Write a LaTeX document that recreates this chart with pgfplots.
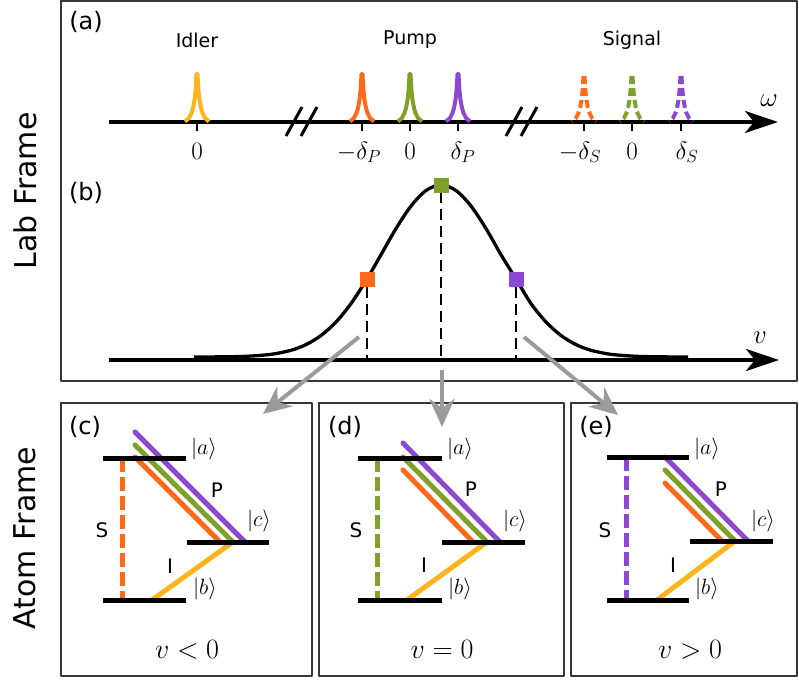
\RequirePackage{fix-cm}
\documentclass[border=0pt]{standalone}
\usepackage[no-math]{fontspec}
\setmainfont{DejaVu Sans}
\usepackage{pgfplots}
\pgfplotsset{compat=1.18}
\usetikzlibrary{arrows.meta}
\definecolor{cOr}{RGB}{255,106,26}
\definecolor{cGr}{RGB}{127,160,42}
\definecolor{cPu}{RGB}{140,72,208}
\definecolor{cYe}{RGB}{255,180,28}
\definecolor{cGy}{RGB}{155,155,155}
\definecolor{cBx}{RGB}{55,55,55}
\newcommand{\fs}[1]{\fontsize{#1}{#1}\selectfont}
\begin{document}
\begin{tikzpicture}
\begin{axis}[
 width=799pt, height=679pt, scale only axis,
 xmin=0, xmax=799, ymin=0, ymax=679, y dir=reverse,
 axis line style={draw=none}, ticks=none, clip=false,
 every axis plot/.append style={line join=round},
 box/.style={cBx, line width=1.6pt, line cap=rect},
 peak/.style={line width=4pt},
 dpeak/.style={line width=4pt, dash pattern=on 8pt off 4pt},
 lvl/.style={black, line width=5pt},
 tr/.style={line width=5pt, line cap=round},
 sdash/.style={line width=5pt, dash pattern=on 14pt off 5pt},
 garrow/.style={cGy, line width=4pt, -{Stealth[length=28pt,width=25pt,inset=9pt]}},
 barrow/.style={black, line width=4pt, -{Stealth[length=33pt,width=22pt,inset=9pt]}},
]
\path (axis cs:0,0) rectangle (axis cs:799,679);
% ---------------- boxes
\addplot[box] coordinates {(61,1) (797,1) (797,381) (61,381) (61,1)};
\addplot[box] coordinates {(61,403) (312,403) (312,676) (61,676) (61,403)};
\addplot[box] coordinates {(319,403) (564,403) (564,676) (319,676) (319,403)};
\addplot[box] coordinates {(571,403) (797,403) (797,676) (571,676) (571,403)};
% ---------------- panel (a)
\addplot[barrow] coordinates {(109,122) (778,122)};
\addplot[black, line width=2.5pt] coordinates {(197,122) (197,131)};
\addplot[black, line width=2.5pt] coordinates {(362,122) (362,131)};
\addplot[black, line width=2.5pt] coordinates {(410,122) (410,131)};
\addplot[black, line width=2.5pt] coordinates {(458,122) (458,131)};
\addplot[black, line width=2.5pt] coordinates {(584,122) (584,131)};
\addplot[black, line width=2.5pt] coordinates {(632,122) (632,131)};
\addplot[black, line width=2.5pt] coordinates {(681,122) (681,131)};
% axis breaks
\addplot[black, line width=3pt] coordinates {(286,136) (302,107)};
\addplot[black, line width=3pt] coordinates {(301,136) (317,107)};
\addplot[black, line width=3pt] coordinates {(506,136) (522,107)};
\addplot[black, line width=3pt] coordinates {(521,136) (537,107)};
% idler and pump lines
\addplot[peak, cYe] coordinates {(185,121.5) (189,118) (191.5,113) (193,108) (194.5,100) (195.6,90) (196.5,74) (197.5,74) (198.4,90) (199.5,100) (201,108) (202.5,113) (205,118) (209,121.5)};
\addplot[peak, cOr] coordinates {(350,121.5) (354,118) (356.5,113) (358,108) (359.5,100) (360.6,90) (361.5,74) (362.5,74) (363.4,90) (364.5,100) (366,108) (367.5,113) (370,118) (374,121.5)};
\addplot[peak, cGr] coordinates {(398,121.5) (402,118) (404.5,113) (406,108) (407.5,100) (408.6,90) (409.5,74) (410.5,74) (411.4,90) (412.5,100) (414,108) (415.5,113) (418,118) (422,121.5)};
\addplot[peak, cPu] coordinates {(446,121.5) (450,118) (452.5,113) (454,108) (455.5,100) (456.6,90) (457.5,74) (458.5,74) (459.4,90) (460.5,100) (462,108) (463.5,113) (466,118) (470,121.5)};
% signal lines (dashed)
\addplot[dpeak, cOr] coordinates {(583.5,76) (582.6,90) (581.5,100) (580,108) (578.5,113) (576,118) (572,121.5)};
\addplot[dpeak, cOr] coordinates {(584.5,76) (585.4,90) (586.5,100) (588,108) (589.5,113) (592,118) (596,121.5)};
\addplot[dpeak, cGr] coordinates {(631.5,76) (630.6,90) (629.5,100) (628,108) (626.5,113) (624,118) (620,121.5)};
\addplot[dpeak, cGr] coordinates {(632.5,76) (633.4,90) (634.5,100) (636,108) (637.5,113) (640,118) (644,121.5)};
\addplot[dpeak, cPu] coordinates {(680.5,76) (679.6,90) (678.5,100) (677,108) (675.5,113) (673,118) (669,121.5)};
\addplot[dpeak, cPu] coordinates {(681.5,76) (682.4,90) (683.5,100) (685,108) (686.5,113) (689,118) (693,121.5)};
% labels (a)
\node[anchor=base] at (axis cs:86,30) {\fs{24}(a)};
\node[anchor=base] at (axis cs:197,48) {\fs{19}Idler};
\node[anchor=base] at (axis cs:410,45) {\fs{19}Pump};
\node[anchor=base] at (axis cs:632,46) {\fs{19}Signal};
\node at (axis cs:769,101) {\fs{27}$\omega$};
\node[anchor=base] at (axis cs:197,159) {\fs{25}$0$};
\node[anchor=base] at (axis cs:359,159) {\fs{25}$-\delta_P$};
\node[anchor=base] at (axis cs:410,159) {\fs{25}$0$};
\node[anchor=base] at (axis cs:463,159) {\fs{25}$\delta_P$};
\node[anchor=base] at (axis cs:580,159) {\fs{25}$-\delta_S$};
\node[anchor=base] at (axis cs:632,159) {\fs{25}$0$};
\node[anchor=base] at (axis cs:687,159) {\fs{25}$\delta_S$};
% ---------------- panel (b)
\addplot[barrow] coordinates {(109,360) (779,360)};
\addplot[black, line width=3.3pt, smooth] coordinates {(194,357) (221,356.84) (246,356.3) (271,354.35) (291,350.3) (306,344.6) (321,335.5) (336,322) (351,303.6) (367,279) (381,254.7) (396,228.6) (411,206) (426,190.5) (441,185) (456,190.5) (471,206) (486,228.6) (501,254.7) (516,279) (531,303.6) (546,322) (561,335.5) (576,344.6) (591,350.3) (611,354.35) (636,356.3) (661,356.84) (688,357)};
\addplot[black, line width=2.5pt, dash pattern=on 11pt off 6pt] coordinates {(367,287) (367,360)};
\addplot[black, line width=2.5pt, dash pattern=on 11pt off 6pt] coordinates {(441,192) (441,360)};
\addplot[black, line width=2.5pt, dash pattern=on 11pt off 6pt] coordinates {(516,287) (516,360)};
\addplot[only marks, mark=square*, mark size=7pt, color=cOr] coordinates {(367,279)};
\addplot[only marks, mark=square*, mark size=7pt, color=cGr] coordinates {(441,185)};
\addplot[only marks, mark=square*, mark size=7pt, color=cPu] coordinates {(516,279)};
\node[anchor=base] at (axis cs:86,200) {\fs{24}(b)};
\node at (axis cs:760,338) {\fs{27}$v$};
% side labels
\node[rotate=90] at (axis cs:25,191) {\fs{30}Lab Frame};
\node[rotate=90] at (axis cs:25,538) {\fs{30}Atom Frame};
% gray arrows
\addplot[garrow] coordinates {(359,337) (263,414)};
\addplot[garrow] coordinates {(442,370) (442,427)};
\addplot[garrow] coordinates {(524,337) (618,415)};
% ---------------- panel (c)
\addplot[sdash, cOr] coordinates {(122,458) (122,600)};
\addplot[tr, cPu] coordinates {(135,432) (245,542)};
\addplot[tr, cGr] coordinates {(135,445) (233,542)};
\addplot[tr, cOr] coordinates {(135,457) (220,542)};
\addplot[tr, cYe] coordinates {(152,600) (233,542)};
\addplot[lvl] coordinates {(103,458) (186,458)};
\addplot[lvl] coordinates {(187,542) (269,542)};
\addplot[lvl] coordinates {(103,600) (186,600)};
\node[anchor=base] at (axis cs:85,434) {\fs{24}(c)};
\node at (axis cs:204,449) {\fs{22}$|a\rangle$};
\node at (axis cs:259,521) {\fs{22}$|c\rangle$};
\node at (axis cs:205,589) {\fs{22}$|b\rangle$};
\node[anchor=base] at (axis cs:217,497) {\fs{20}P};
\node[anchor=base] at (axis cs:102,537) {\fs{20}S};
\node[anchor=base] at (axis cs:170,573) {\fs{20}I};
\node[anchor=base] at (axis cs:187,658) {\fs{28}$v<0$};
% ---------------- panel (d)
\addplot[sdash, cGr] coordinates {(377,458) (377,600)};
\addplot[tr, cPu] coordinates {(403,443) (500,542)};
\addplot[tr, cGr] coordinates {(403,457) (487,542)};
\addplot[tr, cOr] coordinates {(403,470) (473,542)};
\addplot[tr, cYe] coordinates {(407,600) (487,542)};
\addplot[lvl] coordinates {(358,458) (442,458)};
\addplot[lvl] coordinates {(442,542) (525,542)};
\addplot[lvl] coordinates {(358,600) (442,600)};
\node[anchor=base] at (axis cs:345,434) {\fs{24}(d)};
\node at (axis cs:460,449) {\fs{22}$|a\rangle$};
\node at (axis cs:515,521) {\fs{22}$|c\rangle$};
\node at (axis cs:460,589) {\fs{22}$|b\rangle$};
\node[anchor=base] at (axis cs:471,496) {\fs{20}P};
\node[anchor=base] at (axis cs:356,537) {\fs{20}S};
\node[anchor=base] at (axis cs:424,572) {\fs{20}I};
\node[anchor=base] at (axis cs:442,658) {\fs{28}$v=0$};
% ---------------- panel (e)
\addplot[sdash, cPu] coordinates {(626,457) (626,600)};
\addplot[tr, cPu] coordinates {(665,457) (748,541)};
\addplot[tr, cGr] coordinates {(665,470) (735,541)};
\addplot[tr, cOr] coordinates {(665,483) (722,541)};
\addplot[tr, cYe] coordinates {(657,600) (735,541)};
\addplot[lvl] coordinates {(607,457) (689,457)};
\addplot[lvl] coordinates {(690,541) (773,541)};
\addplot[lvl] coordinates {(607,600) (689,600)};
\node[anchor=base] at (axis cs:596,434) {\fs{24}(e)};
\node at (axis cs:707,449) {\fs{22}$|a\rangle$};
\node at (axis cs:763,521) {\fs{22}$|c\rangle$};
\node at (axis cs:707,589) {\fs{22}$|b\rangle$};
\node[anchor=base] at (axis cs:721,496) {\fs{20}P};
\node[anchor=base] at (axis cs:605,537) {\fs{20}S};
\node[anchor=base] at (axis cs:673,572) {\fs{20}I};
\node[anchor=base] at (axis cs:690,658) {\fs{28}$v>0$};
\end{axis}
\end{tikzpicture}
\end{document}
